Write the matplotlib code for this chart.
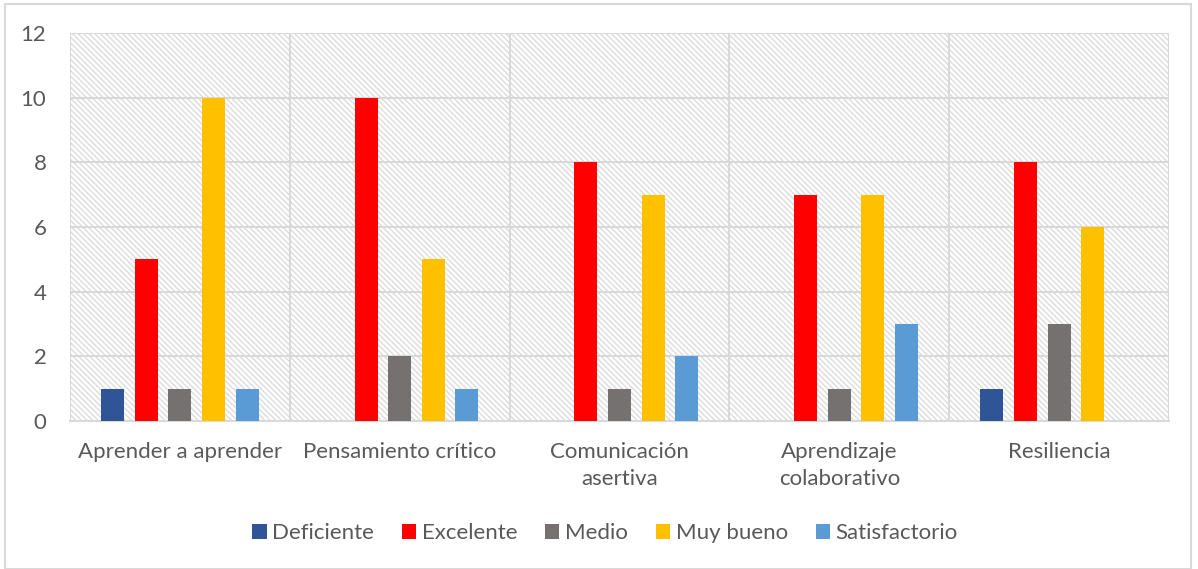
import numpy as np
import matplotlib.pyplot as plt
from matplotlib.patches import Rectangle

plt.rcParams['font.family'] = ['Lato', 'DejaVu Sans']
plt.rcParams['hatch.linewidth'] = 0.9

categorias = ['Aprender a aprender', 'Pensamiento crítico', 'Comunicación\nasertiva',
              'Aprendizaje\ncolaborativo', 'Resiliencia']
series = ['Deficiente', 'Excelente', 'Medio', 'Muy bueno', 'Satisfactorio']
deficiente = [1, 0, 0, 0, 1]
excelente = [5, 10, 8, 7, 8]
medio = [1, 2, 1, 1, 3]
muy_bueno = [10, 5, 7, 7, 6]
satisfactorio = [1, 1, 2, 3, 0]
colores = ['#2F5597', '#FF0000', '#767171', '#FFC000', '#5B9BD5']

valores = [deficiente, excelente, medio, muy_bueno, satisfactorio]
gris = '#D9D9D9'
texto = '#595959'

fig = plt.figure(figsize=(11.98, 5.69), dpi=100)
ax = fig.add_axes([70 / 1198, 1 - 421 / 569, 1099 / 1198, 388 / 569])

# fondo rayado
ax.add_patch(Rectangle((0, 0), 1, 1, transform=ax.transAxes, facecolor='white',
                       edgecolor=gris, hatch='\\\\\\\\\\\\', lw=0, zorder=0))

x = np.arange(len(categorias))
ancho = 0.105
paso = 0.153
for i, (nombre, vals) in enumerate(zip(series, valores)):
    ax.bar(x + (i - 2) * paso, vals, width=ancho, color=colores[i], label=nombre, zorder=3)

ax.set_xlim(-0.5, 4.5)
ax.set_ylim(0, 12)
ax.set_yticks(range(0, 13, 2))
ax.set_xticks(x)
ax.set_xticklabels(categorias, linespacing=1.45)
for v in range(2, 13, 2):
    ax.axhline(v, color=gris, lw=1.5, zorder=1)
for b in np.arange(-0.5, 5, 1):
    ax.axvline(b, color=gris, lw=1.5, zorder=1)
for s in ['top', 'right', 'left']:
    ax.spines[s].set_visible(False)
ax.spines['bottom'].set_color(gris)
ax.spines['bottom'].set_linewidth(1.5)
ax.tick_params(length=0, labelsize=16, colors=texto)
ax.tick_params(axis='x', pad=15)
ax.tick_params(axis='y', pad=17)

fig.legend(loc='center', bbox_to_anchor=(0.505, 1 - 533 / 569), ncol=5, frameon=False,
           fontsize=16, labelcolor=texto, handlelength=0.65, handleheight=0.65,
           handletextpad=0.25, columnspacing=1.25)

fig.patches.append(Rectangle((5 / 1198, 0), 1186 / 1198, 1 - 4 / 569, transform=fig.transFigure,
                             fill=False, edgecolor=gris, lw=1.5))

fig.savefig('out.png', dpi=100)
